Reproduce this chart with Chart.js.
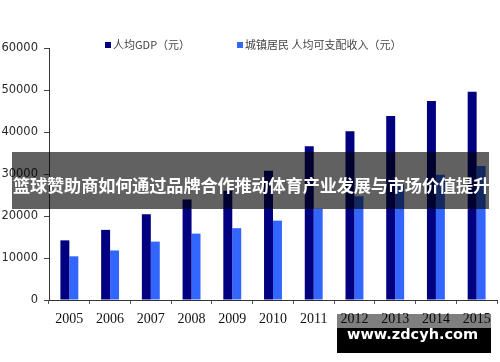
<!DOCTYPE html>
<html lang="zh">
<head>
    <meta charset="UTF-8">
    <title>人均GDP与城镇居民人均可支配收入</title>
    <script src="https://cdn.jsdelivr.net/npm/chart.js"></script>
    <style>
        body { margin: 0; background: #fff; }
        #wrap { position: relative; width: 500px; height: 362px; overflow: hidden; }
        #banner {
            position: absolute; left: 12px; top: 152px; width: 477px; height: 57px;
            background: rgba(0, 0, 0, 0.62);
        }
        #banner span {
            position: absolute; left: 1px; top: 20px; line-height: 24px; white-space: nowrap;
            color: #fff; font: bold 17.2px "Noto Sans CJK SC", sans-serif; letter-spacing: -0.15px;
        }
        #markTop {
            position: absolute; left: 337px; top: 314px; width: 154px; height: 14px;
            background: rgba(0, 0, 0, 0.5);
        }
        #mark {
            position: absolute; left: 337px; top: 328px; width: 154px; height: 25px;
            background: #000;
        }
        #mark span {
            position: absolute; left: 10px; top: -2px; line-height: 20px; white-space: nowrap;
            color: #fff; font: bold 14.5px "DejaVu Sans", sans-serif;
        }
    </style>
</head>
<body>
<div id="wrap">
    <canvas id="myChart" width="500" height="362"></canvas>
    <div id="banner"><span>篮球赞助商如何通过品牌合作推动体育产业发展与市场价值提升</span></div>
    <div id="markTop"></div>
    <div id="mark"><span>www.zdcyh.com</span></div>
</div>

<script>
    // 数据
    const years = ['2005', '2006', '2007', '2008', '2009', '2010', '2011', '2012', '2013', '2014', '2015'];
    const gdpPerCapita = [14200, 16700, 20400, 23900, 26000, 30800, 36600, 40200, 43800, 47400, 49600];
    const urbanIncome = [10400, 11800, 13900, 15800, 17100, 18900, 21700, 24700, 27500, 29800, 31900];
    const seriesNames = ['人均GDP（元）', '城镇居民 人均可支配收入（元）'];

    // 图例自己画（位置和原图一致）
    const topLegend = {
        id: 'topLegend',
        afterDraw(chart) {
            const c = chart.ctx;
            const xs = [105, 237];
            c.save();
            c.font = '11px "Noto Sans CJK SC", sans-serif';
            c.textBaseline = 'middle';
            chart.data.datasets.forEach(function (ds, i) {
                c.fillStyle = ds.backgroundColor;
                c.fillRect(xs[i], 42, 6, 6);
                c.fillStyle = '#444';
                c.fillText(ds.label, xs[i] + 8, 45);
            });
            c.restore();
        }
    };

    const ctx = document.getElementById('myChart').getContext('2d');
    const myChart = new Chart(ctx, {
        type: 'bar',
        data: {
            labels: years,
            datasets: [{
                label: seriesNames[0],
                data: gdpPerCapita,
                backgroundColor: '#000080'
            }, {
                label: seriesNames[1],
                data: urbanIncome,
                backgroundColor: '#3366ff'
            }]
        },
        options: {
            responsive: false,
            animation: false,
            devicePixelRatio: 1,
            layout: { padding: { top: 48, right: 3, left: 0, bottom: 0 } },
            datasets: { bar: { categoryPercentage: 0.44, barPercentage: 1 } },
            plugins: {
                legend: { display: false },
                tooltip: { enabled: false }
            },
            scales: {
                x: {
                    afterFit: function (s) { s.height = 62; },
                    grid: { offset: true, drawOnChartArea: false, tickLength: 4, color: '#555' },
                    border: { color: '#333' },
                    ticks: {
                        padding: 7,
                        color: '#111',
                        font: { family: 'Liberation Serif', size: 14 }
                    }
                },
                y: {
                    min: 0,
                    max: 60000,
                    afterFit: function (s) { s.width = 49; },
                    grid: { drawOnChartArea: false, tickLength: 5, color: '#444' },
                    border: { color: '#333' },
                    ticks: {
                        stepSize: 10000,
                        padding: 6,
                        color: '#2a2a2a',
                        font: { family: 'DejaVu Sans', size: 11.5 },
                        callback: function (v) { return String(v); }
                    }
                }
            }
        },
        plugins: [topLegend]
    });
</script>
</body>
</html>
